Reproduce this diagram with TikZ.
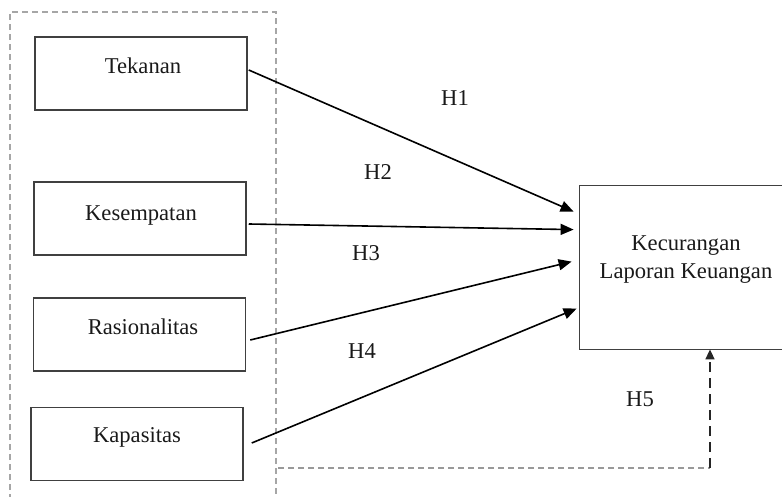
\documentclass[tikz,border=0pt]{standalone}
\usepackage{fontspec}
\setmainfont{Liberation Serif}
\usetikzlibrary{arrows.meta}
\begin{document}
\begin{tikzpicture}[x=0.5pt,y=-0.5pt,
  every node/.style={font=\fontsize{11.3}{14}\selectfont, text=black!90},
  boxnode/.style={draw=black!75, line width=0.75pt, minimum width=106pt, minimum height=36.5pt, inner sep=0pt},
  lbl/.style={inner sep=0pt},
  conn/.style={draw=black, line width=0.8pt, -{Triangle[length=6.5pt,width=5.5pt]}},
  hyp/.style={inner sep=0pt}
]
\useasboundingbox (0,0) rectangle (782,497);
\clip (0,0) rectangle (782,497);
% dashed frame
\draw[gray!70, line width=0.6pt, dash pattern=on 3pt off 2pt] (10,500) -- (10,12) -- (276,12) -- (276,500);
% input boxes
\node[boxnode] (tek) at (141,73.5) {};
\node[lbl] (tekt) at (143,66) {Tekanan};
\node[boxnode] (kes) at (140,218.5) {};
\node[lbl] (kest) at (141,216) {Kesempatan};
\node[boxnode] (ras) at (139.5,334.5) {};
\node[lbl] (rast) at (143,327) {Rasionalitas};
\node[boxnode] (kap) at (137,444) {};
\node[lbl] (kapt) at (137,437) {Kapasitas};
% target box (right side runs off the picture)
\node[minimum width=115pt, minimum height=81.5pt, inner sep=0pt] (tgt) at (695,267.5) {};
\draw[black!75, line width=0.75pt] (tgt.north east) -- (tgt.north west) -- (tgt.south west) -- (tgt.south east);
\node[lbl, align=center] (tgtt) at (686,259.5) {Kecurangan\\Laporan Keuangan};
% connectors
\draw[conn] ([shift={(1,-3.5)}]tek.east) -- ([shift={(-6,26)}]tgt.north west);
\draw[conn] ([shift={(2,5.5)}]kes.east) -- ([shift={(-6,44)}]tgt.north west);
\draw[conn] ([shift={(4,5.5)}]ras.east) -- ([shift={(-8,76)}]tgt.north west);
\draw[conn] ([shift={(8,-1)}]kap.east) -- ([shift={(-3,123)}]tgt.north west);
% H5 dashed
\coordinate (h5s) at (278,468);
\coordinate (h5c) at (710,468);
\draw[gray!80, line width=0.7pt, dash pattern=on 3pt off 2pt] (h5s) -- (h5c);
\draw[black!85, line width=0.8pt, dash pattern=on 5pt off 3pt, -{Triangle[length=5pt,width=4.5pt]}] (h5c) -- (h5c |- tgt.south);
% labels
\node[hyp] (h1) at (455,98) {H1};
\node[hyp] (h2) at (378,172) {H2};
\node[hyp] (h3) at (366,253) {H3};
\node[hyp] (h4) at (362,351) {H4};
\node[hyp] (h5) at (640,399) {H5};
\end{tikzpicture}
\end{document}
